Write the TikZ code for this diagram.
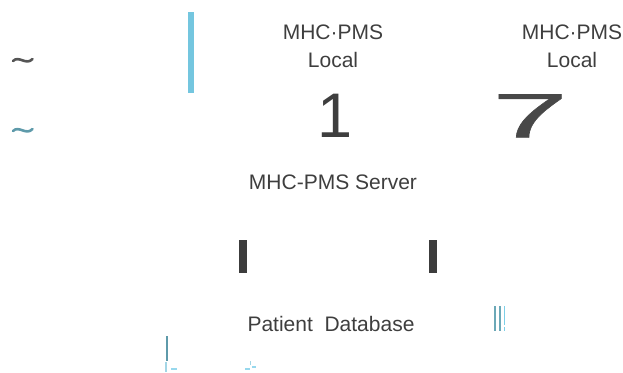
\documentclass[tikz,border=0pt]{standalone}
\usepackage{fontspec}
\setmainfont{Liberation Sans}
\definecolor{txt}{HTML}{3E3E3E}
\definecolor{dk}{HTML}{3C3C3C}
\definecolor{sky}{HTML}{74C6DF}
\definecolor{teal}{HTML}{5E9AAA}
\definecolor{tealb}{HTML}{6BA8B7}
\definecolor{lblue}{HTML}{7DCFE8}
\definecolor{pale}{HTML}{A3D6E6}
\definecolor{tilde}{HTML}{555555}
\begin{document}
\begin{tikzpicture}[x=1pt,y=-1pt,
  lbl/.style={font=\fontsize{21}{24}\selectfont, text=txt, inner sep=0pt, anchor=base},
  big/.style={font=\fontsize{63}{63}\selectfont, text=txt, inner sep=0pt, anchor=base},
  wave/.style={line width=2.6pt, line cap=round}]
\useasboundingbox (0,0) rectangle (623,372);
% labels
\node[lbl] (l1a) at (333,39) {MHC·PMS};
\node[lbl] (l1b) at (333,67) {Local};
\node[lbl] (l2a) at (572,39) {MHC·PMS};
\node[lbl] (l2b) at (572,67) {Local};
\node[lbl] (srv) at (333,189) {MHC-PMS Server};
\node[lbl] (db) at (331,331) {Patient\ \ Database};
\node[big] (one) at (335,137.5) {1};
\node[big, text=txt!95!white] (seven) at (530,137.5) {\scalebox{2.18}[1]{\addfontfeature{FakeBold=0.5}7}};
% tildes
\draw[wave, draw=tilde] (13,61) .. controls (19,55) and (26,66) .. (32.5,59);
\draw[wave, draw=teal] (13,131) .. controls (19,125) and (26,136) .. (32.5,129);
% bars
\fill[sky] (188,12) rectangle (194,93);
\fill[dk] (239,240) rectangle (247,273);
\fill[dk] (429,240) rectangle (437,273);
\fill[tealb] (494,306) rectangle (496.2,331);
\fill[tealb] (498.7,306) rectangle (500.9,331);
\fill[lblue] (503.7,306) rectangle (505.4,325);
\fill[lblue] (503.7,327) rectangle (505.4,331);
% small fragments bottom
\fill[teal] (166.3,336) rectangle (168.3,361);
\fill[pale] (165,362) rectangle (166.6,371.5);
\fill[lblue!80!white] (171,368) rectangle (176.7,370);
\fill[pale] (250,361) rectangle (251,365);
\fill[lblue!80!white] (245,368.3) rectangle (249.7,369.6);
\fill[lblue!80!white] (252,366) rectangle (255.7,368);
\end{tikzpicture}
\end{document}
